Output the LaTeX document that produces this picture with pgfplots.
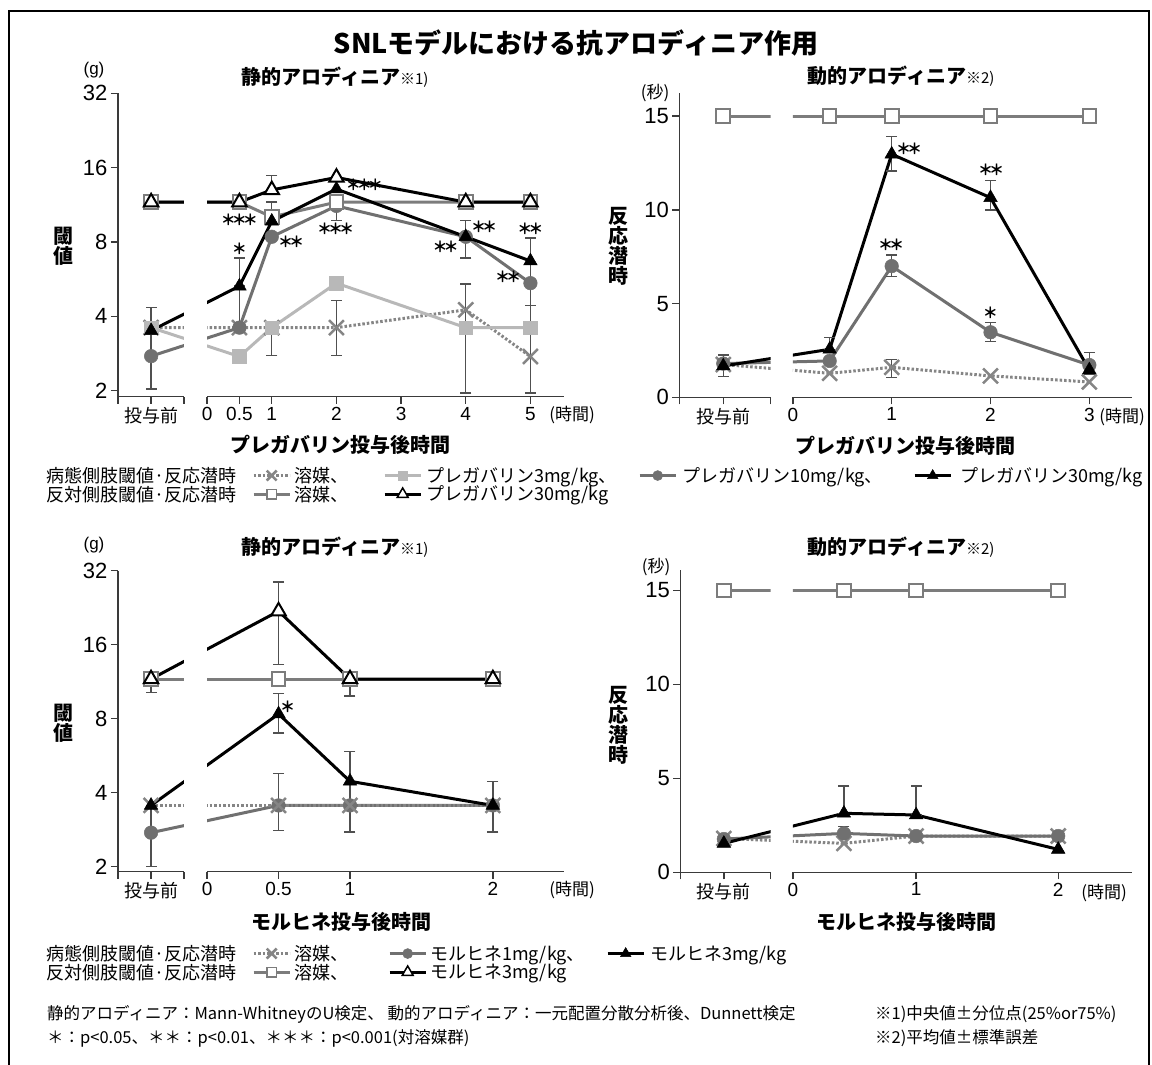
\documentclass[border=0pt]{standalone}
\usepackage{pgfplots}
\pgfplotsset{compat=1.18}
\usepackage{pgfplotstable}
\usepackage{fontspec}
\setmainfont{Liberation Sans}
\newfontfamily\jp{Noto Sans CJK JP}
\usetikzlibrary{plotmarks}
\newcommand{\fs}[1]{\fontsize{#1}{#1}\selectfont}
\newcommand{\sg}{\kern-2pt{\jp\bfseries ＊}\kern-2pt}

\definecolor{axc}{HTML}{3A3A3A}
\definecolor{vehc}{HTML}{858585}
\definecolor{p3c}{HTML}{B8B8B8}
\definecolor{p10c}{HTML}{707070}
\definecolor{cvehc}{HTML}{7C7C7C}
\definecolor{errc}{HTML}{505050}

\pgfplotsset{
  sVeh/.style={vehc, line width=3pt, dash pattern=on 2.5pt off 2pt, mark=x, mark size=10.5pt, mark options={solid, line width=2.5pt, vehc}},
  sP3/.style={p3c, line width=3pt, mark=square*, mark size=6.8pt, mark options={solid, fill=p3c, draw=p3c, line width=0.5pt}},
  sP10/.style={p10c, line width=3pt, mark=*, mark size=6.8pt, mark options={solid, fill=p10c, draw=p10c, line width=0.5pt}},
  sP30/.style={black, line width=3pt, mark=triangle*, mark size=7.8pt, mark options={solid, fill=black, line width=0.5pt}},
  sCveh/.style={cvehc, line width=3pt, mark=square*, mark size=6.8pt, mark options={solid, fill=white, draw=cvehc, line width=2pt}},
  sC30/.style={black, line width=3pt, mark=triangle*, mark size=8.3pt, mark options={solid, fill=white, draw=black, line width=2pt}},
  sErr/.style={errc, line width=1.3pt, mark=-, mark size=5.5pt, mark options={solid, errc, line width=1.3pt}, unbounded coords=jump},
  myBase/.style={scale only axis, anchor=south west, clip=true,
    axis x line*=bottom,
    axis line style={axc, line width=1.4pt, -},
    tick style={axc, line width=1.4pt}, major tick length=7pt, tick align=outside,
    xticklabel style={font=\fs{19}}, yticklabel style={font=\fs{22}}},
  myPre/.style={axis y line*=left},
  myMain/.style={axis y line=none, ytick=\empty},
  myLogY/.style={log basis y=2, ymax=32, ytick={2,4,8,16,32}, yticklabels={2,4,8,16,32}},
  myLinY/.style={ytick={0,5,10,15}, yticklabels={0,5,10,15}, ymin=0},
  myLeg/.style={hide axis, scale only axis, anchor=north west, width=10pt, height=10pt, xmin=0, xmax=1, ymin=0, ymax=1,
    legend style={draw=none, fill=none, at={(0,1)}, anchor=north west, font=\jp\fs{18}, legend cell align=left,
      row sep=2pt, inner sep=0pt, column sep=0pt, nodes={inner sep=0pt}},
    legend image code/.code={\draw[mark repeat=2, mark phase=2, ##1] plot coordinates {(0pt,0pt) (18pt,0pt) (36pt,0pt)};}},
  lVeh/.style={sVeh, mark size=7pt},
  lP3/.style={sP3, mark size=4.8pt},
  lP10/.style={sP10, mark size=5pt},
  lP30/.style={sP30, mark size=6pt},
  lCveh/.style={sCveh, mark size=4.8pt, mark options={solid, fill=white, draw=cvehc, line width=1.5pt}},
  lC30/.style={sC30, mark size=6.3pt, mark options={solid, fill=white, draw=black, line width=1.5pt}},
}

% ---------------- data ----------------
\pgfplotstableread{
x      veh   p3    p10   p30   cveh  c30
-0.866 3.6   3.6   2.76  3.5   11.6  11.6
0.5    3.6   2.75  3.6   5.3   11.6  11.6
1      3.6   3.6   8.4   9.7   10.1  13.0
2      3.6   5.45  11.2  13.1  11.6  14.6
4      4.25  3.6   8.4   8.4   11.6  11.6
5      2.75  3.6   5.45  6.7   11.6  11.6
}\TLdata
\pgfplotstableread{
x       veh   p10   p30    cveh
-0.705  1.75  1.8   1.67   15
0.372   1.28  1.94  2.56   15
1       1.6   7.0   12.97  15
2       1.14  3.47  10.65  15
3       0.82  1.72  1.46   15
}\TRdata
\pgfplotstableread{
x       veh   p10   p30   cveh  c30
-0.392  3.55  2.75  3.55  11.6  11.6
0.5     3.55  3.55  8.36  11.6  21.9
1       3.55  3.55  4.45  11.6  11.6
2       3.55  3.55  3.55  11.6  11.6
}\BLdata
\pgfplotstableread{
x       veh   p10   p30   cveh
-0.486  1.8   1.77  1.54  15
0.359   1.54  2.07  3.14  15
0.867   1.93  1.93  3.05  15
1.867   1.93  1.93  1.22  15
}\BRdata

\newcommand{\TLplots}{%
  \addplot[sErr] coordinates {(-0.866,2.03) (-0.866,4.34) (-0.866,nan)
    (0.5,3.6) (0.5,5.3) (0.5,nan) (0.5,5.3) (0.5,6.9) (0.5,nan)
    (1,2.77) (1,3.6) (1,nan) (1,9.5) (1,11.6) (1,nan) (1,13.0) (1,14.9) (1,nan)
    (2,2.77) (2,4.65) (2,nan) (2,9.8) (2,12.4) (2,nan)
    (4,1.96) (4,5.4) (4,nan) (4,6.9) (4,9.8) (4,nan)
    (5,1.96) (5,4.43) (5,nan) (5,4.43) (5,8.3)};
  \addplot[sVeh] table[x=x, y=veh] {\TLdata};
  \addplot[sP3] table[x=x, y=p3] {\TLdata};
  \addplot[sP10] table[x=x, y=p10] {\TLdata};
  \addplot[sCveh] table[x=x, y=cveh] {\TLdata};
  \addplot[sP30] table[x=x, y=p30] {\TLdata};
  \addplot[sC30] table[x=x, y=c30] {\TLdata};
}
\newcommand{\TRplots}{%
  \addplot[sErr] coordinates {(-0.705,1.1) (-0.705,2.26) (-0.705,nan)
    (0.372,2.56) (0.372,3.18) (0.372,nan)
    (1,12.08) (1,13.9) (1,nan) (1,6.44) (1,7.6) (1,nan) (1,1.05) (1,2.0) (1,nan)
    (2,10.0) (2,11.56) (2,nan) (2,2.97) (2,4.0) (2,nan)
    (3,1.2) (3,2.4)};
  \addplot[sVeh] table[x=x, y=veh] {\TRdata};
  \addplot[sP10] table[x=x, y=p10] {\TRdata};
  \addplot[sCveh] table[x=x, y=cveh] {\TRdata};
  \addplot[sP30] table[x=x, y=p30] {\TRdata};
}
\newcommand{\BLplots}{%
  \addplot[sErr] coordinates {(-0.392,2.0) (-0.392,3.55) (-0.392,nan)
    (-0.392,10.2) (-0.392,11.6) (-0.392,nan)
    (0.5,13.3) (0.5,28.8) (0.5,nan) (0.5,7.0) (0.5,10.1) (0.5,nan) (0.5,2.8) (0.5,4.8) (0.5,nan)
    (1,9.9) (1,11.6) (1,nan) (1,2.77) (1,5.88) (1,nan)
    (2,2.77) (2,4.45)};
  \addplot[sP10] table[x=x, y=p10] {\BLdata};
  \addplot[sVeh] table[x=x, y=veh] {\BLdata};
  \addplot[sCveh] table[x=x, y=cveh] {\BLdata};
  \addplot[sP30] table[x=x, y=p30] {\BLdata};
  \addplot[sC30] table[x=x, y=c30] {\BLdata};
}
\newcommand{\BRplots}{%
  \addplot[sErr] coordinates {(0.359,2.07) (0.359,2.43) (0.359,nan) (0.359,3.14) (0.359,4.6) (0.359,nan)
    (0.867,3.05) (0.867,4.6)};
  \addplot[sVeh] table[x=x, y=veh] {\BRdata};
  \addplot[sP10] table[x=x, y=p10] {\BRdata};
  \addplot[sCveh] table[x=x, y=cveh] {\BRdata};
  \addplot[sP30] table[x=x, y=p30] {\BRdata};
}

\begin{document}
\begin{tikzpicture}
\useasboundingbox (0,0) rectangle (1152pt,-1065pt);
\draw[line width=2pt, black] (9pt,-1070pt) -- (9pt,-11pt) -- (1149pt,-11pt) -- (1149pt,-1070pt);

% ============ top left ============
\begin{semilogyaxis}[myBase, myPre, myLogY, at={(117.9pt,-396.7pt)}, width=66pt, height=303.4pt,
  ymin=1.891, xmin=-1.380, xmax=-0.359, xtick={-1.3799,-0.866,-0.3591}, xticklabels={,{\jp\fs{18}投与前},}]
\TLplots
\end{semilogyaxis}
\begin{semilogyaxis}[myBase, myMain, myLogY, at={(207.1pt,-396.7pt)}, width=356.5pt, height=303.4pt,
  ymin=1.891, xmin=0, xmax=5.513, xtick={0,0.5,1,2,3,4,5}, xticklabels={0,0.5,1,2,3,4,5}]
\TLplots
\end{semilogyaxis}

% ============ top right ============
\begin{axis}[myBase, myPre, myLinY, at={(679.3pt,-397.3pt)}, width=91.4pt, height=304pt,
  ymax=16.22, xmin=-1.150, xmax=-0.225, xtick={-1.1499,-0.705,-0.2251}, xticklabels={,{\jp\fs{18}投与前},}]
\TRplots
\end{axis}
\begin{axis}[myBase, myMain, myLinY, at={(792.9pt,-397.3pt)}, width=339.2pt, height=304pt,
  ymax=16.22, xmin=0, xmax=3.433, xtick={0,1,2,3}, xticklabels={0,1,2,3}]
\TRplots
\end{axis}

% ============ bottom left ============
\begin{semilogyaxis}[myBase, myPre, myLogY, at={(117.9pt,-871.7pt)}, width=66pt, height=301pt,
  ymin=1.908, xmin=-0.624, xmax=-0.162, xtick={-0.6239,-0.392,-0.1621}, xticklabels={,{\jp\fs{18}投与前},}]
\BLplots
\end{semilogyaxis}
\begin{semilogyaxis}[myBase, myMain, myLogY, at={(207.1pt,-871.7pt)}, width=356.5pt, height=301pt,
  ymin=1.908, xmin=0, xmax=2.495, xtick={0,0.5,1,2}, xticklabels={0,0.5,1,2}]
\BLplots
\end{semilogyaxis}

% ============ bottom right ============
\begin{axis}[myBase, myPre, myLinY, at={(680.4pt,-872.3pt)}, width=90.3pt, height=302.3pt,
  ymax=16.09, xmin=-0.792, xmax=-0.156, xtick={-0.7919,-0.486,-0.1561}, xticklabels={,{\jp\fs{18}投与前},}]
\BRplots
\end{axis}
\begin{axis}[myBase, myMain, myLinY, at={(792.9pt,-872.3pt)}, width=339.2pt, height=302.3pt,
  ymax=16.09, xmin=0, xmax=2.387, xtick={0,0.867,1.867}, xticklabels={0,1,2}]
\BRplots
\end{axis}

% ============ legends ============
\begin{axis}[myLeg, at={(46pt,-467pt)}, legend columns=5]
\addlegendimage{empty legend}\addlegendentry{\makebox[206pt][l]{病態側肢閾値·反応潜時}}
\addlegendimage{lVeh}\addlegendentry{\makebox[92pt][l]{\hspace{3pt}溶媒、}}
\addlegendimage{lP3}\addlegendentry{\makebox[216pt][l]{\hspace{4pt}プレガバリン3mg/kg、}}
\addlegendimage{lP10}\addlegendentry{\makebox[236pt][l]{\hspace{5pt}プレガバリン10mg/kg、}}
\addlegendimage{lP30}\addlegendentry{\hspace{8pt}プレガバリン30mg/kg}
\addlegendimage{empty legend}\addlegendentry{\makebox[206pt][l]{反対側肢閾値·反応潜時}}
\addlegendimage{lCveh}\addlegendentry{\makebox[92pt][l]{\hspace{3pt}溶媒、}}
\addlegendimage{lC30}\addlegendentry{\hspace{4pt}プレガバリン30mg/kg}
\end{axis}
\begin{axis}[myLeg, at={(46pt,-945pt)}, legend columns=4]
\addlegendimage{empty legend}\addlegendentry{\makebox[206pt][l]{病態側肢閾値·反応潜時}}
\addlegendimage{lVeh}\addlegendentry{\makebox[97pt][l]{\hspace{3pt}溶媒、}}
\addlegendimage{lP10}\addlegendentry{\makebox[179pt][l]{\hspace{3pt}モルヒネ1mg/kg、}}
\addlegendimage{lP30}\addlegendentry{\hspace{5pt}モルヒネ3mg/kg}
\addlegendimage{empty legend}\addlegendentry{\makebox[206pt][l]{反対側肢閾値·反応潜時}}
\addlegendimage{lCveh}\addlegendentry{\makebox[97pt][l]{\hspace{3pt}溶媒、}}
\addlegendimage{lC30}\addlegendentry{\hspace{3pt}モルヒネ3mg/kg}
\end{axis}

% ============ texts ============
\node[font=\jp\bfseries\fs{27}] at (576pt,-43pt) {SNLモデルにおける抗アロディニア作用};

\node[font=\fs{17}] at (94pt,-70pt) {(g)};
\node[anchor=west] at (238pt,-77pt) {\jp\bfseries\fs{20}静的アロディニア{\mdseries\fs{15}※1)}};
\node[font=\jp\bfseries\fs{20}, align=center] at (63pt,-246pt) {閾\\値};
\node[font=\jp\bfseries\fs{20}] at (340pt,-445pt) {プレガバリン投与後時間};
\node[font=\jp\fs{17}] at (572pt,-415pt) {(時間)};

\node[anchor=west] at (804pt,-76pt) {\jp\bfseries\fs{20}動的アロディニア{\mdseries\fs{15}※2)}};
\node[font=\jp\fs{17}] at (655pt,-93pt) {(秒)};
\node[font=\jp\bfseries\fs{20}, align=center] at (618pt,-246pt) {反\\応\\潜\\時};
\node[font=\jp\bfseries\fs{20}] at (905pt,-446pt) {プレガバリン投与後時間};
\node[font=\jp\fs{17}] at (1122pt,-417pt) {(時間)};

\node[font=\fs{17}] at (94pt,-545pt) {(g)};
\node[anchor=west] at (238pt,-547pt) {\jp\bfseries\fs{20}静的アロディニア{\mdseries\fs{15}※1)}};
\node[font=\jp\bfseries\fs{20}, align=center] at (63pt,-723pt) {閾\\値};
\node[font=\jp\bfseries\fs{20}] at (341pt,-922pt) {モルヒネ投与後時間};
\node[font=\jp\fs{17}] at (572pt,-890pt) {(時間)};

\node[anchor=west] at (804pt,-547pt) {\jp\bfseries\fs{20}動的アロディニア{\mdseries\fs{15}※2)}};
\node[font=\jp\fs{17}] at (656pt,-567pt) {(秒)};
\node[font=\jp\bfseries\fs{20}, align=center] at (618pt,-725pt) {反\\応\\潜\\時};
\node[font=\jp\bfseries\fs{20}] at (906pt,-922pt) {モルヒネ投与後時間};
\node[font=\jp\fs{17}] at (1104pt,-893pt) {(時間)};

% significance marks
\begin{scope}[every node/.style={font=\fs{15}, inner sep=0pt}]
\node at (239.3pt,-248.3pt) {\sg};
\node at (239.3pt,-219.3pt) {\sg\sg\sg};
\node at (291pt,-241.7pt) {\sg\sg};
\node at (364.3pt,-185pt) {\sg\sg\sg};
\node at (335.7pt,-228.3pt) {\sg\sg\sg};
\node at (484pt,-226.7pt) {\sg\sg};
\node at (445.7pt,-246.7pt) {\sg\sg};
\node at (530.4pt,-228.3pt) {\sg\sg};
\node at (508.2pt,-276.7pt) {\sg\sg};
\node at (909pt,-148.3pt) {\sg\sg};
\node at (991pt,-170pt) {\sg\sg};
\node at (891pt,-245pt) {\sg\sg};
\node at (990.4pt,-312.3pt) {\sg};
\node at (287.5pt,-706.7pt) {\sg};
\end{scope}

% footnotes
\begin{scope}[every node/.style={font=\jp\fs{16.5}, anchor=west, inner sep=0pt}]
\node at (47pt,-1014pt) {静的アロディニア：Mann-WhitneyのU検定、 動的アロディニア：一元配置分散分析後、Dunnett検定};
\node at (47pt,-1038pt) {＊：p<0.05、＊＊：p<0.01、＊＊＊：p<0.001(対溶媒群)};
\node at (875pt,-1014pt) {※1)中央値±分位点(25\%or75\%)};
\node at (875pt,-1038pt) {※2)平均値±標準誤差};
\end{scope}
\end{tikzpicture}
\end{document}
